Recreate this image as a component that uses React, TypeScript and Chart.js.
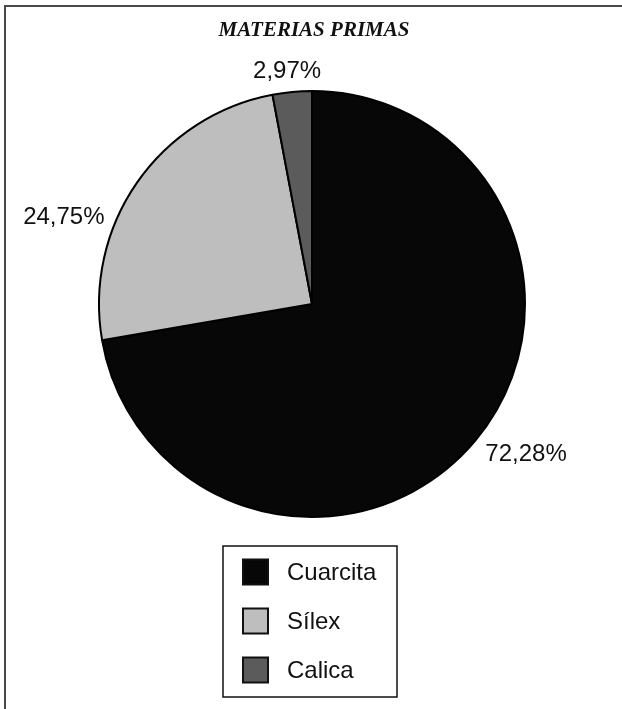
import React, { useEffect, useRef } from "react";
import { Chart, registerables } from "chart.js";

Chart.register(...registerables);

const TITLE = "MATERIAS PRIMAS";
const categories = ["Cuarcita", "Sílex", "Calica"];
const percentages = [72.28, 24.75, 2.97];
const sliceColors = ["#070707", "#bebebe", "#5b5b5b"];

// label offsets relative to pie centre, as fractions of the radius (layout only)
const labelOffsets = [
  [1.005, 0.705],
  [-1.165, -0.405],
  [-0.117, -1.09],
];

const fmt = (v: number) => v.toFixed(2).replace(".", ",") + "%";

const decorPlugin = {
  id: "decor",
  afterDraw(chart: any) {
    const ctx = chart.ctx as CanvasRenderingContext2D;
    const W = chart.width;
    const H = chart.height;
    ctx.save();
    // page frame lines (top and left)
    ctx.strokeStyle = "#4a4a4a";
    ctx.lineWidth = 2;
    ctx.beginPath();
    ctx.moveTo(4, 6);
    ctx.lineTo(W, 6);
    ctx.moveTo(5, 6);
    ctx.lineTo(5, H);
    ctx.stroke();

    // title
    const meta = chart.getDatasetMeta(0);
    const arc0 = meta.data[0];
    const cx = arc0.x;
    const cy = arc0.y;
    const r = arc0.outerRadius;
    ctx.fillStyle = "#111";
    ctx.font = "italic bold 21px 'Liberation Serif', 'Times New Roman', serif";
    ctx.textAlign = "center";
    ctx.textBaseline = "middle";
    ctx.fillText(TITLE, cx + 2, 31);

    // percentage labels
    ctx.font = "24px 'Liberation Sans', Arial, sans-serif";
    const data = chart.data.datasets[0].data as number[];
    data.forEach((v, i) => {
      const [fx, fy] = labelOffsets[i];
      ctx.fillText(fmt(v), cx + fx * r, cy + fy * r);
    });

    // legend box
    const bx = 223, by = 546, bw = 174, bh = 151;
    ctx.strokeStyle = "#111";
    ctx.lineWidth = 1.5;
    ctx.strokeRect(bx, by, bw, bh);
    const labels = chart.data.labels as string[];
    const colors = chart.data.datasets[0].backgroundColor as string[];
    ctx.textAlign = "left";
    labels.forEach((lab, i) => {
      const rowY = 572 + i * 49;
      ctx.fillStyle = colors[i];
      ctx.fillRect(243, rowY - 12.5, 25, 25);
      ctx.strokeStyle = "#111";
      ctx.lineWidth = 2;
      ctx.strokeRect(243, rowY - 12.5, 25, 25);
      ctx.fillStyle = "#111";
      ctx.fillText(lab, 287, rowY + 1);
    });
    ctx.restore();
  },
};

export default function App() {
  const ref = useRef<HTMLCanvasElement>(null);
  useEffect(() => {
    document.body.style.margin = "0";
    const chart = new Chart(ref.current!, {
      type: "pie",
      data: {
        labels: categories,
        datasets: [
          {
            data: percentages,
            backgroundColor: sliceColors,
            borderColor: "#000",
            borderWidth: 2,
          },
        ],
      },
      options: {
        responsive: false,
        animation: false,
        devicePixelRatio: 1,
        layout: { padding: { left: 98, right: 96, top: 90, bottom: 191 } },
        plugins: {
          legend: { display: false },
          tooltip: { enabled: false },
          title: { display: false },
        },
      },
      plugins: [decorPlugin],
    });
    return () => chart.destroy();
  }, []);
  return (
    <div style={{ position: "absolute", left: 0, top: 0, width: 622, height: 709, background: "#fff" }}>
      <canvas ref={ref} width={622} height={709} />
    </div>
  );
}
